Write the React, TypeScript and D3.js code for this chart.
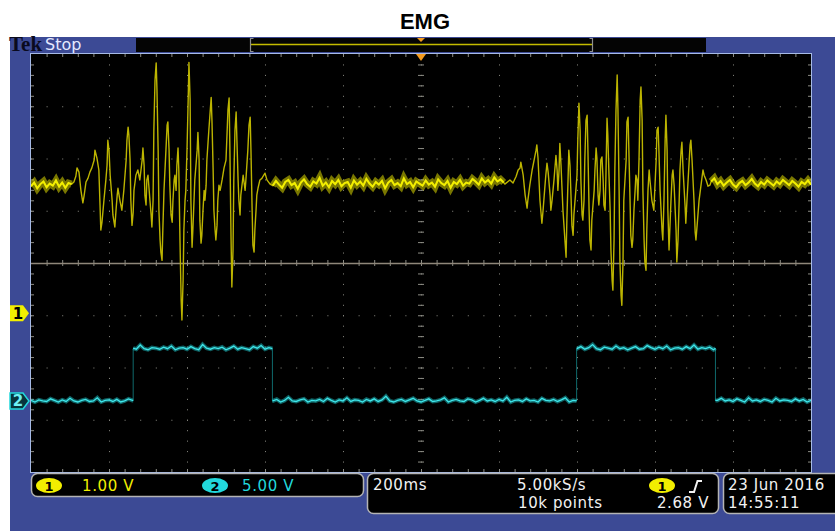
import React, { useEffect, useRef } from 'react';
import * as d3 from 'd3';

// timebase: 200 ms/div over 10 divisions, record runs 0..2000 ms (trigger at 1000)
const timeDivs = 10;
const msPerDiv = 200;
const voltDivs = 8;

const ch1VoltsPerDiv = 1.0;
const ch2VoltsPerDiv = 5.0;
const ch1Offset = -0.96; // ground marker, divisions from screen centre
const ch2Offset = -2.64;

// quiet stretches of CH1 are sampled every 8 ms
const sampleStep = 8;
const ch1LeadStart = 0;
const ch1Lead = [2.43, 2.5, 2.39, 2.47, 2.52, 2.41, 2.48, 2.44, 2.54, 2.42, 2.5, 2.4, 2.49, 2.47];

// first EMG burst [ms, V]
const ch1Burst1: [number, number][] = [
  [110, 2.51], [115, 2.62], [118, 2.78], [123, 2.7], [128, 2.35], [133, 2.11], [136, 2.24], [141, 2.51],
  [146, 2.58], [151, 2.7], [156, 2.78], [162, 2.93], [164, 3.12], [169, 2.97], [174, 2.74], [177, 2.07],
  [179, 1.59], [182, 1.74], [187, 2.16], [192, 2.55], [195, 2.83], [197, 3.31], [200, 3.12], [203, 2.64],
  [208, 2.16], [210, 1.88], [215, 1.65], [218, 1.97], [221, 2.26], [223, 2.39], [228, 2.16], [233, 1.97],
  [238, 2.35], [244, 2.93], [246, 3.31], [249, 3.56], [251, 3.41], [254, 2.93], [256, 2.16], [259, 1.68],
  [262, 1.93], [264, 2.35], [269, 2.64], [274, 2.74], [279, 2.55], [285, 2.93], [287, 3.16], [290, 2.83],
  [292, 2.26], [295, 2.07], [297, 2.55], [300, 2.64], [305, 2.16], [308, 1.88], [310, 1.65], [313, 2.16],
  [315, 3.5], [318, 4.46], [321, 4.79], [323, 4.27], [326, 3.12], [328, 1.97], [331, 1.4], [333, 1.17],
  [336, 1.01], [338, 1.59], [341, 2.35], [346, 3.12], [349, 3.6], [351, 3.66], [354, 3.12], [356, 2.45],
  [359, 1.88], [362, 1.74], [364, 2.16], [367, 2.55], [369, 2.64], [372, 2.35], [374, 2.83], [377, 3.16],
  [379, 2.74], [382, 1.4], [385, 0.25], [387, -0.13], [390, 0.63], [392, 1.59], [395, 2.16], [397, 2.35],
  [400, 3.12], [403, 4.08], [405, 4.8], [408, 4.08], [410, 2.16], [413, 1.26], [415, 1.59], [418, 2.16],
  [420, 2.55], [423, 2.83], [426, 3.12], [428, 3.46], [431, 2.93], [433, 1.78], [436, 1.34], [438, 1.49],
  [441, 1.97], [444, 2.35], [446, 2.16], [449, 2.45], [451, 2.93], [456, 3.5], [462, 4.13], [464, 3.69],
  [467, 2.74], [469, 1.97], [472, 1.59], [474, 1.4], [477, 1.68], [479, 2.16], [482, 2.45], [485, 2.35],
  [490, 2.55], [495, 2.78], [500, 2.93], [503, 3.5], [505, 3.89], [508, 4.12], [510, 3.12], [513, 1.4],
  [515, 0.5], [518, 1.2], [520, 2.55], [523, 3.5], [526, 3.85], [528, 3.31], [531, 2.55], [533, 2.16],
  [536, 1.88], [538, 2.26], [544, 2.64], [549, 2.35], [551, 2.55], [556, 3.12], [559, 3.6], [562, 3.75],
  [564, 3.12], [567, 1.97], [569, 1.3], [572, 1.17], [574, 1.59], [577, 1.97], [579, 2.26], [582, 2.39],
  [587, 2.55], [592, 2.58], [595, 2.62], [600, 2.68], [605, 2.55], [613, 2.47],
];

const ch1GapStart = 620;
const ch1Gap = [
  2.44, 2.53, 2.46, 2.4, 2.51, 2.55, 2.45, 2.49, 2.38, 2.5,
  2.56, 2.47, 2.42, 2.52, 2.48, 2.59, 2.44, 2.5, 2.41, 2.53,
  2.47, 2.55, 2.43, 2.49, 2.51, 2.4, 2.54, 2.46, 2.52, 2.44,
  2.57, 2.48, 2.42, 2.51, 2.46, 2.53, 2.39, 2.5, 2.55, 2.45,
  2.49, 2.43, 2.58, 2.47, 2.51, 2.41, 2.52, 2.48, 2.44, 2.54,
  2.46, 2.5, 2.42, 2.56, 2.49, 2.45, 2.53, 2.4, 2.51, 2.47,
  2.55, 2.44, 2.5, 2.48, 2.57, 2.52, 2.46, 2.58, 2.5, 2.55,
  2.48, 2.6, 2.52, 2.56, 2.5,
];

// second EMG burst [ms, V]
const ch1Burst2: [number, number][] = [
  [1215, 2.47], [1228, 2.55], [1236, 2.49], [1244, 2.62], [1249, 2.74], [1254, 2.78], [1256, 2.89], [1262, 2.64],
  [1267, 2.26], [1272, 2.01], [1274, 2.16], [1279, 2.45], [1285, 2.74], [1290, 2.93], [1295, 3.12], [1297, 3.22],
  [1300, 2.97], [1305, 2.16], [1310, 1.72], [1313, 1.97], [1318, 2.45], [1320, 2.64], [1323, 2.87], [1326, 2.7],
  [1331, 2.26], [1333, 1.97], [1336, 2.16], [1341, 2.55], [1344, 2.83], [1346, 3.02], [1349, 2.74], [1351, 2.35],
  [1354, 2.74], [1356, 3.25], [1359, 2.83], [1364, 1.97], [1369, 1.4], [1372, 1.07], [1374, 1.78], [1377, 2.55],
  [1379, 3.12], [1382, 2.83], [1385, 2.16], [1387, 1.68], [1390, 1.49], [1392, 1.88], [1397, 2.35], [1400, 2.64],
  [1402, 3.31], [1405, 4.02], [1408, 3.5], [1410, 2.55], [1413, 1.88], [1415, 1.78], [1418, 2.16], [1420, 2.93],
  [1423, 3.69], [1426, 3.79], [1428, 3.12], [1431, 1.97], [1433, 1.4], [1436, 1.21], [1438, 1.78], [1444, 2.35],
  [1446, 2.74], [1449, 3.16], [1451, 2.97], [1454, 2.26], [1456, 2.07], [1459, 2.35], [1461, 2.93], [1464, 2.99],
  [1467, 2.55], [1469, 2.07], [1472, 1.97], [1474, 2.55], [1477, 3.73], [1479, 3.41], [1482, 2.64], [1485, 1.97],
  [1487, 1.21], [1490, 0.63], [1492, 0.44], [1495, 1.4], [1497, 2.74], [1500, 3.89], [1503, 4.56], [1505, 3.89],
  [1508, 2.35], [1510, 1.01], [1513, 0.34], [1515, 0.15], [1518, 1.01], [1520, 2.16], [1526, 2.93], [1528, 3.66],
  [1531, 3.75], [1533, 3.12], [1536, 2.16], [1538, 1.49], [1541, 1.26], [1543, 1.4], [1546, 1.97], [1549, 2.35],
  [1551, 2.64], [1554, 2.55], [1556, 2.16], [1559, 2.93], [1562, 4.08], [1564, 4.33], [1567, 3.69], [1569, 2.35],
  [1572, 1.4], [1574, 0.98], [1577, 0.82], [1579, 1.59], [1582, 2.35], [1585, 2.74], [1587, 2.55], [1592, 2.16],
  [1597, 1.97], [1603, 2.93], [1605, 3.5], [1608, 3.56], [1610, 3.12], [1613, 2.35], [1618, 1.59], [1620, 1.4],
  [1623, 2.16], [1626, 3.31], [1628, 3.79], [1631, 3.12], [1633, 1.97], [1636, 1.21], [1638, 1.59], [1641, 2.16],
  [1644, 2.64], [1646, 2.74], [1649, 2.45], [1654, 1.59], [1656, 0.98], [1659, 1.4], [1662, 2.16], [1664, 2.74],
  [1667, 3.12], [1669, 3.27], [1672, 2.74], [1677, 2.07], [1679, 1.72], [1682, 2.16], [1687, 2.83], [1690, 3.22],
  [1692, 3.31], [1695, 2.93], [1700, 2.16], [1703, 1.55], [1705, 1.4], [1708, 1.68], [1713, 2.16], [1718, 2.45],
  [1723, 2.74], [1726, 2.64], [1731, 2.55], [1736, 2.43], [1741, 2.45],
];

const ch1TailStart = 1744;
const ch1Tail = [
  2.52, 2.58, 2.47, 2.53, 2.44, 2.5, 2.55, 2.46, 2.41, 2.49,
  2.53, 2.45, 2.5, 2.57, 2.48, 2.43, 2.51, 2.46, 2.54, 2.49,
  2.44, 2.52, 2.47, 2.55, 2.5, 2.45, 2.53, 2.48, 2.42, 2.51,
  2.47, 2.54, 2.46,
];

// CH2 gate signal: edges in ms, low / high level in V, noise every 10 ms
const ch2Edges = [262, 619, 1399, 1755];
const ch2Levels = [0, 5];
const ch2Step = 10;
const ch2Noise = [
  0.05, -0.1, 0.1, 0.0, -0.05, 0.2, 0.05, -0.1, 0.1, -0.05,
  0.25, 0.0, -0.1, 0.05, 0.15, -0.05, 0.0, 0.3, -0.1, 0.05,
  0.1, -0.05, 0.15, -0.1, 0.0, 0.2, 0.05, -0.05, 0.35, 0.0,
  -0.1, 0.1, 0.05, -0.05, 0.15, 0.0, 0.25, -0.1, 0.05, 0.1,
  -0.05, 0.2, 0.0, -0.1, 0.4, 0.05, -0.05, 0.1, 0.0, 0.15,
  -0.1, 0.05, 0.25, -0.05, 0.1, 0.0, -0.1, 0.2, 0.05, 0.3,
  -0.05, 0.1, 0.0, 0.15, -0.1, 0.05, 0.35, 0.0, -0.05, 0.1,
  0.2, -0.1, 0.05, 0.0, 0.15, -0.05, 0.25, 0.05, -0.1, 0.1,
  0.0, 0.3, -0.05, 0.1, 0.05, -0.1, 0.15, 0.0, 0.2, -0.05,
  0.1, 0.45, 0.0, -0.1, 0.05, 0.15, -0.05, 0.1, 0.25, 0.0,
  -0.1, 0.05, 0.2, -0.05, 0.0, 0.1, 0.3, -0.1, 0.05, 0.15,
  0.0, -0.05, 0.2, 0.1, -0.1, 0.05, 0.25, 0.0, 0.1, -0.05,
  0.15, 0.0, 0.35, -0.1, 0.05, 0.1, -0.05, 0.2, 0.0, 0.05,
  -0.1, 0.25, 0.05, 0.0, 0.15, -0.05, 0.1, 0.3, -0.1, 0.05,
  0.0, 0.2, -0.05, 0.1, 0.4, 0.0, -0.1, 0.15, 0.05, -0.05,
  0.25, 0.0, 0.1, -0.1, 0.05, 0.2, -0.05, 0.0, 0.3, 0.1,
  -0.05, 0.15, 0.0, 0.25, -0.1, 0.05, 0.1, -0.05, 0.2, 0.0,
  0.35, -0.05, 0.1, 0.0, 0.15, -0.1, 0.05, 0.25, 0.0, 0.1,
  -0.05, 0.2, 0.05, -0.1, 0.3, 0.0, 0.1, -0.05, 0.15, 0.05,
  -0.1, 0.25, 0.0, 0.1, 0.05, -0.05, 0.2, 0.0, 0.15, -0.1,
  0.05,
];

// readout texts
const title = 'EMG';
const scaleLabels = ['1.00 V', '5.00 V'];
const timebaseLabel = '200ms';
const acquisitionLabels = ['5.00kS/s', '10k points'];
const triggerLabel = '2.68 V';
const dateLabels = ['23 Jun 2016', '14:55:11'];

const W = 835;
const H = 531;
const plot = { x: 31, y: 54, w: 780, h: 418 };

const YELLOW = '#f2ee00';
const CYAN = '#22d8dc';
const BLUE = '#3c4a95';
const FONT = 'DejaVu Sans, sans-serif';

const EmgScope = () => {
  const svgRef = useRef<SVGSVGElement>(null);

  useEffect(() => {
    const svg = d3.select(svgRef.current);
    svg.selectAll('*').remove();
    svg.attr('width', W).attr('height', H);

    svg.append('rect').attr('width', W).attr('height', H).attr('fill', '#fff');

    svg.append('text')
      .attr('x', 425).attr('y', 29)
      .attr('text-anchor', 'middle')
      .attr('font-family', 'Liberation Sans, Arial, sans-serif')
      .attr('font-weight', 'bold').attr('font-size', 22)
      .text(title);

    // blue bezel
    svg.append('rect').attr('x', 10).attr('y', 37).attr('width', W - 10).attr('height', H - 37).attr('fill', BLUE);

    // top status bar
    svg.append('text').attr('x', 9).attr('y', 51)
      .attr('font-family', 'Liberation Serif, serif').attr('font-weight', 'bold').attr('font-size', 21)
      .attr('fill', '#0a0a1e').text('Tek');
    svg.append('text').attr('x', 45).attr('y', 50)
      .attr('font-family', FONT).attr('font-size', 16).attr('fill', '#e4e9ff').text('Stop');
    svg.append('rect').attr('x', 136).attr('y', 38).attr('width', 570).attr('height', 14).attr('fill', '#040404');
    svg.append('line').attr('x1', 251).attr('x2', 592).attr('y1', 44.5).attr('y2', 44.5)
      .attr('stroke', '#c4bc00').attr('stroke-width', 1.5);
    svg.append('path').attr('d', 'M253.5,38.5 H250.5 V51.5 H253.5 M589.5,38.5 H592.5 V51.5 H589.5')
      .attr('fill', 'none').attr('stroke', '#8e8e8e').attr('stroke-width', 1.2);

    const x = d3.scaleLinear().domain([0, timeDivs * msPerDiv]).range([plot.x, plot.x + plot.w]);
    const yDiv = d3.scaleLinear().domain([-voltDivs / 2, voltDivs / 2]).range([plot.y + plot.h, plot.y]);
    const y1 = (v: number) => yDiv(ch1Offset + v / ch1VoltsPerDiv);
    const y2 = (v: number) => yDiv(ch2Offset + v / ch2VoltsPerDiv);
    const xMid = x(timeDivs * msPerDiv / 2);

    svg.append('path')
      .attr('d', `M${xMid - 4},38 L${xMid + 4},38 L${xMid},42 Z`).attr('fill', '#f39a1e');

    // graticule
    const g = svg.append('g');
    g.append('rect').attr('x', plot.x).attr('y', plot.y).attr('width', plot.w).attr('height', plot.h).attr('fill', '#000');

    const minorX = plot.w / timeDivs / 5;
    const minorY = plot.h / voltDivs / 5;
    const gridColor = '#8c8c84';

    g.selectAll('.vgrid').data(d3.range(1, timeDivs)).enter().append('line')
      .attr('x1', d => x(d * msPerDiv) + 0.5).attr('x2', d => x(d * msPerDiv) + 0.5)
      .attr('y1', plot.y).attr('y2', plot.y + plot.h)
      .attr('stroke', gridColor).attr('stroke-dasharray', `1 ${minorY - 1}`);
    g.selectAll('.hgrid').data(d3.range(-voltDivs / 2 + 1, voltDivs / 2)).enter().append('line')
      .attr('y1', d => yDiv(d) + 0.5).attr('y2', d => yDiv(d) + 0.5)
      .attr('x1', plot.x).attr('x2', plot.x + plot.w)
      .attr('stroke', gridColor).attr('stroke-dasharray', `1 ${minorX - 1}`);

    // edge ticks
    const tickX = d3.range(1, timeDivs * 5).map(i => plot.x + i * minorX);
    const tickY = d3.range(1, voltDivs * 5).map(i => plot.y + i * minorY);
    const yMid = yDiv(0);
    g.selectAll('.tx').data(tickX).enter().append('path')
      .attr('d', d => `M${d + 0.5},${plot.y} v3 M${d + 0.5},${plot.y + plot.h} v-3 M${d + 0.5},${yMid - 3} v6`)
      .attr('stroke', gridColor);
    g.selectAll('.ty').data(tickY).enter().append('path')
      .attr('d', d => `M${plot.x},${d + 0.5} h3 M${plot.x + plot.w},${d + 0.5} h-3 M${xMid - 3},${d + 0.5} h6`)
      .attr('stroke', gridColor);
    g.append('line').attr('x1', plot.x).attr('x2', plot.x + plot.w).attr('y1', yMid + 0.5).attr('y2', yMid + 0.5)
      .attr('stroke', '#8f877a').attr('stroke-width', 1.5);

    svg.append('defs').append('clipPath').attr('id', 'plotClip')
      .append('rect').attr('x', plot.x).attr('y', plot.y).attr('width', plot.w).attr('height', plot.h);
    const traces = svg.append('g').attr('clip-path', 'url(#plotClip)');

    // CH2 gate trace
    const bounds = [0, ...ch2Edges, timeDivs * msPerDiv];
    const noiseAt = (t: number) => ch2Noise[Math.min(ch2Noise.length - 1, Math.round(t / ch2Step))];
    const runs = d3.pairs(bounds).map(([a, b], k) => {
      const level = ch2Levels[k % 2];
      const pts: [number, number][] = ch2Noise
        .map((n, i) => [i * ch2Step, level + n] as [number, number])
        .filter(d => d[0] > a && d[0] < b);
      return [[a, level + noiseAt(a)], ...pts, [b, level + noiseAt(b)]] as [number, number][];
    });
    const line2 = d3.line<[number, number]>().x(d => x(d[0])).y(d => y2(d[1]));
    traces.selectAll('.edge2').data(ch2Edges).enter().append('line')
      .attr('x1', d => x(d)).attr('x2', d => x(d))
      .attr('y1', y2(ch2Levels[0])).attr('y2', y2(ch2Levels[1]))
      .attr('stroke', '#0f6a6c').attr('stroke-width', 1);
    runs.forEach(r => {
      traces.append('path').attr('d', line2(r)).attr('fill', 'none')
        .attr('stroke', CYAN).attr('stroke-width', 4).attr('stroke-opacity', 0.45);
      traces.append('path').attr('d', line2(r)).attr('fill', 'none')
        .attr('stroke', '#3fe6ea').attr('stroke-width', 1.3);
    });

    // CH1 EMG trace
    const quiet = (start: number, vals: number[]) =>
      vals.map((v, i) => [start + i * sampleStep, v] as [number, number]);
    const lead = quiet(ch1LeadStart, ch1Lead);
    const gap = quiet(ch1GapStart, ch1Gap);
    const tail = quiet(ch1TailStart, ch1Tail);
    const full = [...lead, ...ch1Burst1, ...gap, ...ch1Burst2, ...tail];
    const line1 = d3.line<[number, number]>().x(d => x(d[0])).y(d => y1(d[1]));

    [lead, gap, tail].forEach(seg => {
      traces.append('path').attr('d', line1(seg)).attr('fill', 'none')
        .attr('stroke', YELLOW).attr('stroke-width', 7).attr('stroke-opacity', 0.5);
    });
    traces.append('path').attr('d', line1(full)).attr('fill', 'none')
      .attr('stroke', '#bcb400').attr('stroke-width', 1.4).attr('stroke-linejoin', 'round');
    [lead, gap, tail].forEach(seg => {
      traces.append('path').attr('d', line1(seg)).attr('fill', 'none')
        .attr('stroke', YELLOW).attr('stroke-width', 2);
    });

    // plot border and trigger position marker
    svg.append('rect').attr('x', plot.x - 0.5).attr('y', plot.y - 0.5)
      .attr('width', plot.w + 1).attr('height', plot.h + 1)
      .attr('fill', 'none').attr('stroke', '#a6bae6').attr('stroke-width', 1);
    svg.append('path')
      .attr('d', `M${xMid - 5},${plot.y} L${xMid + 5},${plot.y} L${xMid},${plot.y + 7} Z`).attr('fill', '#f39a1e');

    // channel ground markers
    const marker = (yc: number) => `M10,${yc - 8} H23 L29,${yc} L23,${yc + 8} H10 Z`;
    const m1 = y1(0);
    const m2 = y2(0);
    svg.append('path').attr('d', marker(m1)).attr('fill', YELLOW);
    svg.append('text').attr('x', 18).attr('y', m1 + 5.5).attr('text-anchor', 'middle')
      .attr('font-family', FONT).attr('font-weight', 'bold').attr('font-size', 15).attr('fill', '#000').text('1');
    svg.append('path').attr('d', marker(m2)).attr('fill', '#07343c').attr('stroke', CYAN).attr('stroke-width', 1.5);
    svg.append('text').attr('x', 18).attr('y', m2 + 5.5).attr('text-anchor', 'middle')
      .attr('font-family', FONT).attr('font-weight', 'bold').attr('font-size', 15).attr('fill', '#6ff0f4').text('2');

    // bottom readouts
    const box = (bx: number, bw: number, bh: number) =>
      svg.append('rect').attr('x', bx + 0.5).attr('y', 473.5).attr('width', bw).attr('height', bh)
        .attr('rx', 6).attr('fill', '#000').attr('stroke', '#b4b4b4').attr('stroke-width', 1.5);
    box(31, 332, 23);
    box(367, 351, 40);
    box(723, 130, 40);

    const badge = (cx: number, label: string, fill: string) => {
      svg.append('ellipse').attr('cx', cx).attr('cy', 485.5).attr('rx', 13).attr('ry', 7.5).attr('fill', fill);
      svg.append('text').attr('x', cx).attr('y', 490.5).attr('text-anchor', 'middle')
        .attr('font-family', FONT).attr('font-weight', 'bold').attr('font-size', 13).attr('fill', '#000').text(label);
    };
    const readout = (tx: number, ty: number, label: string, fill: string, anchor = 'start') =>
      svg.append('text').attr('x', tx).attr('y', ty).attr('text-anchor', anchor)
        .attr('font-family', FONT).attr('font-size', 15).attr('letter-spacing', 0.6)
        .attr('fill', fill).text(label);

    badge(49, '1', YELLOW);
    readout(82, 491, scaleLabels[0], YELLOW);
    badge(215, '2', CYAN);
    readout(242, 491, scaleLabels[1], CYAN);

    readout(373, 490, timebaseLabel, '#f2f2f2');
    readout(517, 490, acquisitionLabels[0], '#f2f2f2');
    readout(518, 508, acquisitionLabels[1], '#f2f2f2');
    badge(662, '1', YELLOW);
    svg.append('path').attr('d', 'M689,492 H694 L697.5,481 H702')
      .attr('fill', 'none').attr('stroke', '#f2f2f2').attr('stroke-width', 2);
    readout(709, 508, triggerLabel, '#f2f2f2', 'end');

    readout(728, 490, dateLabels[0], '#f2f2f2');
    readout(728, 508, dateLabels[1], '#f2f2f2');
  }, []);

  return <svg ref={svgRef} style={{ position: 'absolute', left: 0, top: 0, display: 'block' }}></svg>;
};

export default function App() {
  return <EmgScope />;
}
